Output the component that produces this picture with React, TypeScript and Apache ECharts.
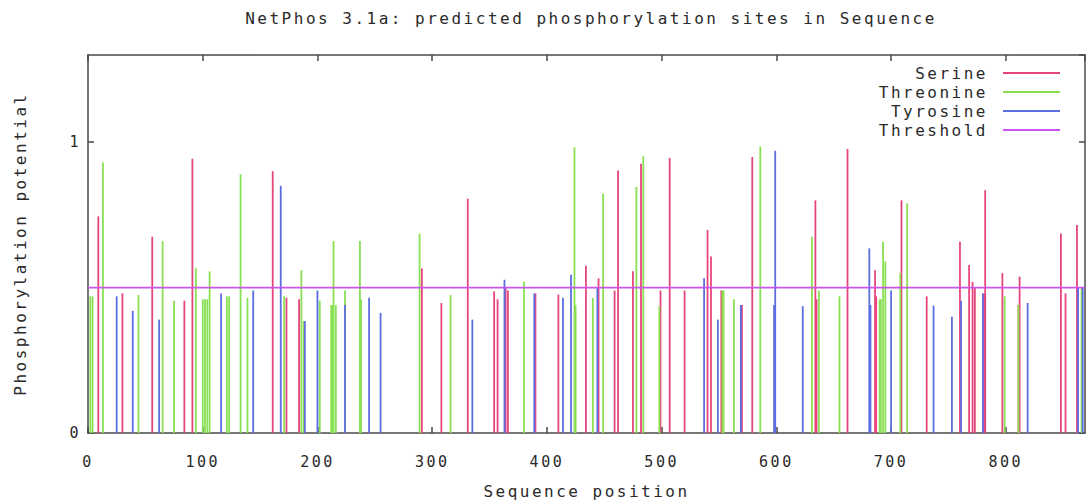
import React, { useEffect, useRef } from "react";
import * as echarts from "echarts";

const seqLength = 869;
const threshold = 0.5;
const xTicks = [0, 100, 200, 300, 400, 500, 600, 700, 800];
const yTicks = [0, 1];

const serinePos = [9, 30, 56, 84, 91, 161, 173, 184, 291, 308, 331, 354, 357, 364, 366, 390, 410, 434, 445, 459, 462, 475, 482, 499, 507, 520, 540, 543, 552, 570, 579, 634, 635, 662, 686, 687, 709, 731, 760, 768, 771, 773, 781, 782, 797, 811, 812, 848, 852, 862];
const serineVal = [0.745, 0.48, 0.675, 0.455, 0.943, 0.9, 0.465, 0.46, 0.566, 0.447, 0.806, 0.487, 0.46, 0.5, 0.49, 0.48, 0.476, 0.575, 0.532, 0.49, 0.903, 0.556, 0.926, 0.49, 0.946, 0.49, 0.698, 0.607, 0.49, 0.44, 0.949, 0.8, 0.46, 0.977, 0.56, 0.47, 0.8, 0.47, 0.658, 0.578, 0.52, 0.5, 0.48, 0.835, 0.55, 0.44, 0.538, 0.686, 0.48, 0.715];

const threoninePos = [2, 4, 13, 44, 65, 75, 94, 100, 102, 104, 106, 121, 123, 133, 139, 171, 186, 188, 202, 212, 213, 214, 216, 224, 237, 238, 289, 316, 380, 424, 425, 440, 449, 478, 484, 498, 553, 554, 563, 586, 631, 637, 655, 690, 691, 693, 695, 708, 714, 799, 811, 866];
const threonineVal = [0.47, 0.47, 0.93, 0.475, 0.66, 0.455, 0.567, 0.46, 0.46, 0.46, 0.556, 0.47, 0.47, 0.89, 0.465, 0.47, 0.56, 0.385, 0.455, 0.44, 0.44, 0.66, 0.44, 0.49, 0.66, 0.46, 0.686, 0.475, 0.52, 0.983, 0.44, 0.464, 0.823, 0.846, 0.952, 0.436, 0.49, 0.49, 0.46, 0.985, 0.675, 0.49, 0.47, 0.46, 0.46, 0.658, 0.59, 0.55, 0.79, 0.47, 0.44, 0.5];

const tyrosinePos = [25, 39, 62, 116, 144, 168, 189, 200, 224, 245, 255, 335, 363, 389, 414, 421, 444, 537, 549, 569, 598, 599, 623, 681, 682, 700, 737, 753, 761, 780, 819, 863, 867];
const tyrosineVal = [0.47, 0.42, 0.39, 0.48, 0.49, 0.85, 0.385, 0.49, 0.44, 0.465, 0.413, 0.39, 0.527, 0.48, 0.465, 0.544, 0.5, 0.532, 0.39, 0.44, 0.44, 0.971, 0.436, 0.635, 0.44, 0.49, 0.438, 0.4, 0.455, 0.48, 0.447, 0.5, 0.5];

const COLORS = {
  serine: "#e6457c",
  threonine: "#88e052",
  tyrosine: "#5b6ee1",
  threshold: "#c955ec",
};

const FONT = "DejaVu Sans Mono";
const TEXT_COLOR = "#2a2a2a";
const AXIS_COLOR = "#4a4a4a";

function pairs(pos: number[], val: number[]) {
  return pos.map((p, i) => [p, val[i]]);
}

function impulseSeries(name: string, color: string, data: number[][]) {
  return {
    name,
    type: "custom",
    xAxisIndex: 0,
    yAxisIndex: 0,
    itemStyle: { color },
    encode: { x: 0, y: 1 },
    data,
    renderItem: (params: any, api: any) => {
      const x = api.value(0);
      const y = api.value(1);
      const p0 = api.coord([x, 0]);
      const p1 = api.coord([x, y]);
      return {
        type: "line",
        shape: { x1: p0[0], y1: p0[1], x2: p1[0], y2: p1[1] },
        style: { stroke: color, lineWidth: 1.8 },
      };
    },
  };
}

export default function App() {
  const ref = useRef<HTMLDivElement>(null);
  useEffect(() => {
    if (!ref.current) return;
    const chart = echarts.init(ref.current, undefined, { renderer: "svg" });
    const axisCommon = {
      type: "value",
      axisLine: { show: true, onZero: false, lineStyle: { color: AXIS_COLOR, width: 1.5 } },
      axisTick: { show: true, inside: true, length: 6, lineStyle: { color: AXIS_COLOR, width: 1.5 } },
      splitLine: { show: false },
    };
    chart.setOption({
      animation: false,
      backgroundColor: "#ffffff",
      title: {
        text: "NetPhos 3.1a: predicted phosphorylation sites in Sequence",
        left: 586,
        top: 5,
        textAlign: "center",
        textStyle: { fontFamily: FONT, fontSize: 16, fontWeight: "normal", color: TEXT_COLOR },
      },
      legend: {
        orient: "vertical",
        right: 24,
        top: 60,
        align: "right",
        itemGap: 3,
        itemWidth: 57,
        itemHeight: 2,
        icon: "rect",
        textStyle: { fontFamily: FONT, fontSize: 16, color: TEXT_COLOR, padding: [0, 10, 0, 0] },
        data: ["Serine", "Threonine", "Tyrosine", "Threshold"],
      },
      grid: { left: 88, top: 55, width: 997, height: 381, containLabel: false },
      xAxis: [
        {
          ...axisCommon,
          position: "bottom",
          min: 0,
          max: seqLength,
          interval: 100,
          axisLabel: {
            fontFamily: FONT,
            fontSize: 15,
            color: TEXT_COLOR,
            margin: 21,
            showMaxLabel: false,
            formatter: (v: number) => (xTicks.includes(v) ? String(v) : ""),
          },
          name: "Sequence position",
          nameLocation: "middle",
          nameGap: 50,
          nameTextStyle: { fontFamily: FONT, fontSize: 16, color: TEXT_COLOR },
        },
        {
          ...axisCommon,
          position: "top",
          min: 0,
          max: seqLength,
          interval: 100,
          axisLabel: { show: false },
        },
      ],
      yAxis: [
        {
          ...axisCommon,
          position: "left",
          min: 0,
          max: 1.3,
          interval: 1,
          axisLabel: {
            fontFamily: FONT,
            fontSize: 15,
            color: TEXT_COLOR,
            margin: 7,
            showMaxLabel: false,
            formatter: (v: number) => (yTicks.includes(v) ? String(v) : ""),
          },
          name: "Phosphorylation potential",
          nameLocation: "middle",
          nameGap: 60,
          nameTextStyle: { fontFamily: FONT, fontSize: 16, color: TEXT_COLOR },
        },
        {
          ...axisCommon,
          position: "right",
          min: 0,
          max: 1.3,
          interval: 1,
          axisLabel: { show: false },
        },
      ],
      series: [
        impulseSeries("Serine", COLORS.serine, pairs(serinePos, serineVal)),
        impulseSeries("Threonine", COLORS.threonine, pairs(threoninePos, threonineVal)),
        impulseSeries("Tyrosine", COLORS.tyrosine, pairs(tyrosinePos, tyrosineVal)),
        {
          name: "Threshold",
          type: "line",
          xAxisIndex: 0,
          yAxisIndex: 0,
          showSymbol: false,
          symbol: "none",
          itemStyle: { color: COLORS.threshold },
          lineStyle: { color: COLORS.threshold, width: 1.6 },
          data: [
            [0, threshold],
            [seqLength, threshold],
          ],
        },
      ],
    });
    return () => chart.dispose();
  }, []);
  return (
    <div
      ref={ref}
      style={{
        position: "absolute",
        left: 0,
        top: 0,
        width: 1089,
        height: 504,
        letterSpacing: "2.5px",
      }}
    />
  );
}
